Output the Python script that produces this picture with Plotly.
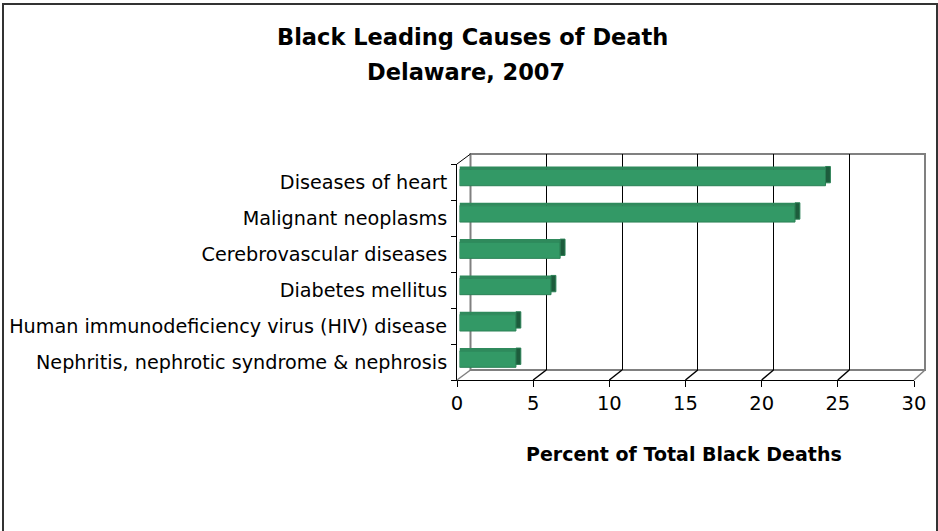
import plotly.graph_objects as go

# ---- data ----
categories = [
    "Diseases of heart",
    "Malignant neoplasms",
    "Cerebrovascular diseases",
    "Diabetes mellitus",
    "Human immunodeficiency virus (HIV) disease",
    "Nephritis, nephrotic syndrome & nephrosis",
]
values = [24.0, 22.0, 6.6, 6.0, 3.7, 3.7]
x_ticks = [0, 5, 10, 15, 20, 25, 30]
title_line1 = "Black Leading Causes of Death"
title_line2 = "Delaware, 2007"
x_title = "Percent of Total Black Deaths"

W, H = 938, 531


def fx(p):
    return p / W


def fy(p):
    return 1 - p / H


REG = "DejaVu Sans"
BOLD = "DejaVu Sans"
GREEN = "#339966"
EDGE = "#2a8055"
DARK = "#1d5c3c"
GRAY = "#808080"

# geometry of the pseudo-3D frame (pixels)
FRONT_L, FRONT_R, FRONT_B, FRONT_T = 457, 914, 380, 164
BACK_L, BACK_R, BACK_B, BACK_T = 470.5, 925, 370, 154
BAR_L = 459.5

idx = list(range(len(categories)))

fig = go.Figure()

# invisible traces to bind the back-wall and front axes
fig.add_trace(go.Scatter(x=values, y=[0.5] * len(values), xaxis="x", yaxis="y", mode="markers",
                         marker=dict(opacity=0), hoverinfo="skip", showlegend=False))
fig.add_trace(go.Scatter(x=values, y=idx, xaxis="x2", yaxis="y2", mode="markers",
                         marker=dict(opacity=0), hoverinfo="skip", showlegend=False))

# front face of bars
fig.add_trace(go.Bar(x=values, y=idx, orientation="h", xaxis="x3", yaxis="y3",
                     width=0.45, marker=dict(color=GREEN, line=dict(color=EDGE, width=1)),
                     showlegend=False))
# top face strip
fig.add_trace(go.Bar(x=values, y=idx, orientation="h", xaxis="x3", yaxis="y3",
                     width=0.08, offset=-0.305,
                     marker=dict(color="#2f8a5c", line=dict(color="#2f8a5c", width=0)),
                     showlegend=False))
# end cap
fig.add_trace(go.Bar(x=[0.32] * len(values), base=values, y=idx, orientation="h",
                     xaxis="x3", yaxis="y3", width=0.45, offset=-0.305,
                     marker=dict(color=DARK, line=dict(color=EDGE, width=1)),
                     showlegend=False))

shapes = []
# back wall frame
shapes.append(dict(type="rect", xref="paper", yref="paper",
                   x0=fx(BACK_L), x1=fx(BACK_R), y0=fy(BACK_B), y1=fy(BACK_T),
                   line=dict(color=GRAY, width=2), layer="below"))
# floor perspective lines from front ticks to back wall
for k in x_ticks:
    xf = FRONT_L + (FRONT_R - FRONT_L) * k / 30
    xb = BACK_L + (BACK_R - BACK_L) * k / 30
    col = GRAY if k in (0, 30) else "black"
    shapes.append(dict(type="line", xref="paper", yref="paper",
                       x0=fx(xf), y0=fy(FRONT_B), x1=fx(xb), y1=fy(BACK_B),
                       line=dict(color=col, width=1.5)))
# left top perspective edge
shapes.append(dict(type="line", xref="paper", yref="paper",
                   x0=fx(FRONT_L), y0=fy(FRONT_T), x1=fx(BACK_L), y1=fy(BACK_T),
                   line=dict(color="black", width=1)))
# outer border
shapes.append(dict(type="rect", xref="paper", yref="paper",
                   x0=fx(3), y0=fy(536), x1=fx(937), y1=fy(4),
                   line=dict(color="#333333", width=2)))

annotations = [
    dict(text="<b>" + title_line1 + "</b>", x=fx(472), y=fy(37), xref="paper", yref="paper",
         showarrow=False, xanchor="center", yanchor="middle",
         font=dict(family=BOLD, size=22.5, color="black")),
    dict(text="<b>" + title_line2 + "</b>", x=fx(466), y=fy(72), xref="paper", yref="paper",
         showarrow=False, xanchor="center", yanchor="middle",
         font=dict(family=BOLD, size=22.5, color="black")),
    dict(text="<b>" + x_title + "</b>", x=fx(684), y=fy(454), xref="paper", yref="paper",
         showarrow=False, xanchor="center", yanchor="middle",
         font=dict(family=BOLD, size=19, color="black")),
]

fig.update_layout(
    width=W, height=H,
    margin=dict(l=0, r=0, t=0, b=0, autoexpand=False),
    paper_bgcolor="white", plot_bgcolor="rgba(0,0,0,0)",
    barmode="overlay",
    showlegend=False,
    shapes=shapes,
    annotations=annotations,
    font=dict(family=REG, size=19.5, color="black"),
    # back wall
    xaxis=dict(domain=[fx(BACK_L), fx(BACK_R)], range=[0, 30], anchor="y", automargin=False,
               tickvals=[5, 10, 15, 20, 25], showgrid=True, gridcolor="black", gridwidth=1,
               showticklabels=False, ticks="", zeroline=False, showline=False, fixedrange=True),
    yaxis=dict(domain=[fy(BACK_B), fy(BACK_T)], range=[0, 1], anchor="x", automargin=False,
               showgrid=False, showticklabels=False, ticks="", zeroline=False, showline=False),
    # front axes
    xaxis2=dict(domain=[fx(FRONT_L), fx(FRONT_R)], range=[0, 30], anchor="y2", automargin=False,
                tickvals=x_ticks, ticks="outside", ticklen=6, tickcolor="black", tickwidth=1,
                showline=True, linecolor="black", linewidth=1, showgrid=False, zeroline=False,
                tickfont=dict(family=REG, size=19.5, color="black")),
    yaxis2=dict(domain=[fy(FRONT_B), fy(FRONT_T)], range=[5.5, -0.5], anchor="x2", automargin=False,
                tickvals=idx, ticktext=categories, ticks="", showline=True,
                linecolor="black", linewidth=1, showgrid=False, zeroline=False,
                ticklabelstandoff=5,
                minor=dict(tickvals=[i - 0.5 for i in range(len(categories) + 1)],
                           ticks="outside", ticklen=5, tickcolor="black", showgrid=False),
                tickfont=dict(family=REG, size=19.2, color="black")),
    # bars
    xaxis3=dict(domain=[fx(BAR_L), fx(BAR_L + (FRONT_R - FRONT_L) + 0.5)], range=[0, 30],
                anchor="y3", visible=False),
    yaxis3=dict(domain=[fy(377.3), fy(159.4)], range=[5.5, -0.5], anchor="x3", visible=False),
)

fig.write_html("out.html", config={"displayModeBar": False},
               post_script="document.body.style.margin='0';document.body.style.padding='0';")
